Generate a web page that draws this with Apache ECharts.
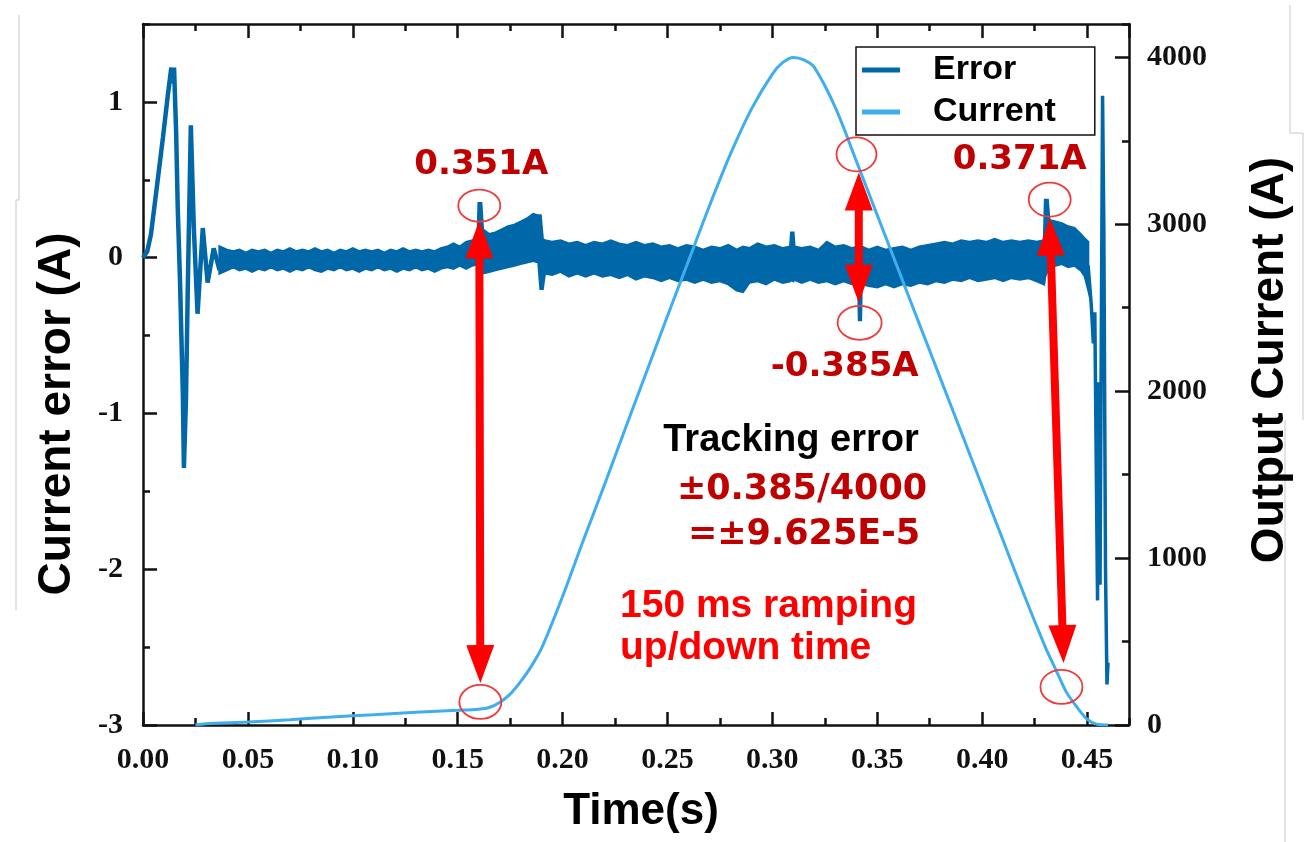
<!DOCTYPE html>
<html><head><meta charset="utf-8">
<script src="https://cdn.jsdelivr.net/npm/echarts@6/dist/echarts.min.js"></script>
<style>html,body{margin:0;padding:0;background:#fff}#c{width:1304px;height:842px}</style>
</head><body><div id="c"></div>
<script>
// ---------------- DATA ----------------
// Output current (right axis, A)
const curT = [0.025,0.03,0.05,0.07,0.09,0.11,0.13,0.15,0.16,0.165,0.17,0.175,0.18,0.185,0.19,0.20,0.21,0.22,0.23,0.24,0.25,0.26,0.27,0.28,0.29,0.30,0.305,0.31,0.315,0.32,0.33,0.34,0.35,0.36,0.37,0.38,0.39,0.40,0.41,0.42,0.43,0.435,0.44,0.445,0.45,0.4545,0.46];
const curV = [0,8,18,32,48,62,76,88,95,105,135,185,260,350,460,770,1110,1440,1780,2115,2450,2780,3110,3420,3690,3900,3970,4000,3985,3940,3700,3380,3055,2730,2405,2080,1755,1430,1105,780,470,335,200,110,35,5,0];

// Current error (left axis, A) - start-up transient
const errEarlyT = [0,0.002,0.0038,0.0062,0.0095,0.0119,0.0135,0.0142,0.0148,0.0158,0.0166,0.0176,0.019,0.0195,0.0205,0.0213,0.0228,0.0242,0.026,0.0285,0.0308,0.0337,0.0365];
const errEarlyV = [0,0.04,0.15,0.41,0.77,1.05,1.22,1.12,1.22,0.8,0.30,-0.13,-0.88,-1.35,-0.9,-0.23,0.85,0.2,-0.36,0.19,-0.16,0.06,-0.08];

// Current error - noise band (upper / lower envelope)
const errBandT  = [0.0365,0.040,0.043,0.046,0.049,0.052,0.055,0.058,0.061,0.064,0.067,0.070,0.073,0.076,0.079,0.082,0.085,0.088,0.091,0.094,0.097,0.100,0.103,0.106,0.109,0.112,0.115,0.118,0.121,0.124,0.127,0.130,0.133,0.136,0.139,0.142,0.145,0.148,0.151,0.154,0.157,0.1595,0.1600,0.1612,0.1620,0.165,0.168,0.171,0.174,0.177,0.180,0.183,0.186,0.1885,0.1895,0.1905,0.1915,0.195,0.199,0.203,0.207,0.211,0.215,0.219,0.223,0.227,0.231,0.235,0.239,0.243,0.247,0.251,0.255,0.259,0.263,0.267,0.271,0.275,0.279,0.283,0.286,0.289,0.293,0.297,0.301,0.305,0.3085,0.3090,0.3100,0.3105,0.314,0.318,0.322,0.326,0.330,0.334,0.338,0.3410,0.3413,0.3422,0.3425,0.346,0.350,0.354,0.358,0.362,0.366,0.370,0.374,0.378,0.382,0.386,0.390,0.394,0.398,0.402,0.406,0.410,0.414,0.418,0.422,0.426,0.4295,0.4300,0.4312,0.4320,0.435,0.438,0.441,0.444,0.447,0.449,0.4505];
const errBandHi = [0.07,0.05,0.04,0.05,0.03,0.05,0.04,0.05,0.03,0.05,0.04,0.06,0.04,0.05,0.04,0.06,0.04,0.05,0.03,0.05,0.04,0.06,0.04,0.05,0.04,0.05,0.03,0.05,0.04,0.06,0.04,0.05,0.04,0.05,0.04,0.06,0.07,0.09,0.07,0.10,0.11,0.12,0.35,0.35,0.18,0.15,0.16,0.18,0.20,0.21,0.23,0.25,0.28,0.27,0.27,0.12,0.11,0.10,0.11,0.09,0.10,0.08,0.10,0.09,0.11,0.09,0.08,0.10,0.08,0.09,0.07,0.08,0.06,0.08,0.07,0.05,0.07,0.06,0.08,0.05,0.07,0.06,0.09,0.07,0.08,0.06,0.07,0.16,0.16,0.07,0.06,0.07,0.05,0.10,0.07,0.08,0.06,0.07,0.06,0.06,0.07,0.05,0.07,0.05,0.06,0.07,0.05,0.07,0.08,0.09,0.10,0.09,0.11,0.10,0.11,0.10,0.12,0.10,0.11,0.10,0.11,0.10,0.11,0.37,0.37,0.24,0.23,0.22,0.20,0.19,0.15,0.12,0.10];
const errBandLo = [-0.10,-0.08,-0.06,-0.08,-0.07,-0.09,-0.07,-0.08,-0.06,-0.08,-0.07,-0.09,-0.07,-0.08,-0.06,-0.08,-0.09,-0.07,-0.08,-0.06,-0.08,-0.07,-0.09,-0.07,-0.08,-0.06,-0.08,-0.07,-0.09,-0.07,-0.08,-0.06,-0.08,-0.07,-0.09,-0.07,-0.06,-0.07,-0.05,-0.07,-0.05,-0.04,-0.03,-0.02,-0.10,-0.09,-0.08,-0.07,-0.06,-0.05,-0.04,-0.03,-0.02,-0.03,-0.20,-0.20,-0.10,-0.11,-0.09,-0.12,-0.10,-0.12,-0.10,-0.12,-0.11,-0.13,-0.11,-0.14,-0.12,-0.13,-0.15,-0.13,-0.15,-0.14,-0.16,-0.14,-0.16,-0.15,-0.17,-0.21,-0.22,-0.16,-0.15,-0.17,-0.14,-0.16,-0.15,-0.14,-0.15,-0.14,-0.16,-0.14,-0.16,-0.15,-0.17,-0.15,-0.17,-0.18,-0.40,-0.40,-0.17,-0.18,-0.19,-0.17,-0.19,-0.17,-0.18,-0.16,-0.17,-0.15,-0.16,-0.14,-0.15,-0.13,-0.15,-0.14,-0.13,-0.15,-0.13,-0.14,-0.13,-0.15,-0.17,-0.12,-0.08,-0.06,-0.05,-0.04,-0.06,-0.05,-0.08,-0.12,-0.20];

// Current error - ramp-down end transient
const errEndT = [0.4505,0.4520,0.4530,0.4537,0.4543,0.4550,0.4556,0.4562,0.4568,0.4574,0.4580,0.4588,0.4595,0.4600];
const errEndV = [-0.05,-0.3,-0.55,-0.35,-1.2,-2.2,-0.8,-2.1,-0.5,1.04,0.2,-2.0,-2.74,-2.6];

// Annotated peaks
const peakT = [0.1603, 0.3416, 0.4322];
const peakV = [0.351, -0.385, 0.371];
const peakLabels = ['0.351A', '-0.385A', '0.371A'];

// ---------------- CHART ----------------
const C_ERR = '#0067A9', C_CUR = '#3FAEEF', C_AX = '#111';
const zip = (a, b) => a.map((v, i) => [v, b[i]]);
const tickFont = {fontFamily: 'Liberation Serif', fontWeight: 'bold', fontSize: 30, color: C_AX};
const X = {min: 0, max: 0.47, splitLine: {show: false}};
const axLine = {show: true, onZero: false, lineStyle: {color: C_AX, width: 2.5}};
const noLine = {show: false, onZero: false};
const tk = (len) => ({inside: true, length: len, lineStyle: {color: C_AX, width: 2.5}});

const chart = echarts.init(document.getElementById('c'), null, {renderer: 'canvas'});
chart.setOption({
  animation: false,
  backgroundColor: '#fff',
  grid: {left: 143, right: 175, top: 24, bottom: 117, containLabel: false, outerBoundsMode: 'none'},
  legend: {
    orient: 'vertical', left: 856, top: 47, padding: [6, 39, 6, 6], itemGap: 8,
    itemWidth: 38, itemHeight: 5, borderColor: '#111', borderWidth: 1.5, backgroundColor: '#fff',
    textStyle: {fontFamily: 'Liberation Sans', fontWeight: 'bold', fontSize: 34, color: '#000', padding: [0, 0, 0, 28]},
    data: [{name: 'Error', icon: 'rect'}, {name: 'Current', icon: 'rect'}]
  },
  xAxis: [
    Object.assign({type: 'value', position: 'bottom', interval: 0.05, axisLine: axLine, axisTick: tk(13),
      axisLabel: Object.assign({margin: 20, showMaxLabel: false, formatter: v => v.toFixed(2)}, tickFont)}, X),
    Object.assign({type: 'value', position: 'bottom', interval: 0.025, axisLine: noLine, axisTick: tk(7), axisLabel: {show: false}}, X),
    Object.assign({type: 'value', position: 'top', interval: 0.05, axisLine: axLine, axisTick: tk(14), axisLabel: {show: false}}, X),
    Object.assign({type: 'value', position: 'top', interval: 0.025, axisLine: noLine, axisTick: tk(7), axisLabel: {show: false}}, X)
  ],
  yAxis: [
    {type: 'value', position: 'left', min: -3, max: 1.5, interval: 1, splitLine: {show: false}, axisLine: axLine, axisTick: tk(14),
      axisLabel: Object.assign({margin: 20, showMaxLabel: false}, tickFont)},
    {type: 'value', position: 'left', min: -3, max: 1.5, interval: 0.5, splitLine: {show: false}, axisLine: noLine, axisTick: tk(7), axisLabel: {show: false}},
    {type: 'value', position: 'right', min: 0, max: 4200, interval: 1000, splitLine: {show: false}, axisLine: axLine, axisTick: tk(14),
      axisLabel: Object.assign({margin: 18, showMaxLabel: false, formatter: v => String(v)}, tickFont)},
    {type: 'value', position: 'right', min: 0, max: 4200, interval: 500, splitLine: {show: false}, axisLine: noLine, axisTick: tk(7), axisLabel: {show: false}}
  ],
  series: [
    {name: 'Error', type: 'line', xAxisIndex: 0, yAxisIndex: 0, data: zip(errEarlyT, errEarlyV),
      showSymbol: false, lineStyle: {color: C_ERR, width: 4.5}, itemStyle: {color: C_ERR}},
    {name: 'Error', type: 'custom', xAxisIndex: 0, yAxisIndex: 0, data: [[errBandT[0], errBandHi[0]]],
      itemStyle: {color: C_ERR},
      renderItem: function (params, api) {
        const top = [], bot = [];
        for (let i = 0; i < errBandT.length; i++) {
          top.push(api.coord([errBandT[i], errBandHi[i]]));
          bot.push(api.coord([errBandT[i], errBandLo[i]]));
        }
        return {type: 'polygon', shape: {points: top.concat(bot.reverse())},
          style: {fill: C_ERR, stroke: C_ERR, lineWidth: 2.5}};
      }},
    {name: 'Error', type: 'line', xAxisIndex: 0, yAxisIndex: 0, data: zip(errEndT, errEndV),
      showSymbol: false, lineStyle: {color: C_ERR, width: 3.5}, itemStyle: {color: C_ERR}},
    {name: 'Current', type: 'line', xAxisIndex: 0, yAxisIndex: 2, data: zip(curT, curV), smooth: 0.3,
      showSymbol: false, lineStyle: {color: C_CUR, width: 3}, itemStyle: {color: C_CUR}}
  ]
});

// ---------------- ANNOTATIONS (positioned through the axes) ----------------
const px = t => chart.convertToPixel({xAxisIndex: 0}, t);
const py = (v, ax) => chart.convertToPixel({yAxisIndex: ax === 'C' ? 2 : 0}, v);
const circles = [
  {t: 0.1603, v: 0.334, ax: 'E', rx: 21, ry: 16},
  {t: 0.1608, v: 138, ax: 'C', rx: 21, ry: 17},
  {t: 0.3401, v: 3419, ax: 'C', rx: 20, ry: 17},
  {t: 0.3416, v: -0.418, ax: 'E', rx: 22, ry: 17},
  {t: 0.4322, v: 0.373, ax: 'E', rx: 21, ry: 17},
  {t: 0.4378, v: 228, ax: 'C', rx: 21, ry: 17}
];
const arrows = [
  {t1: 0.1603, v1: 0.238, a1: 'E', t2: 0.1608, v2: 251, a2: 'C'},
  {t1: 0.3412, v1: 3311, a1: 'C', t2: 0.3412, v2: -0.289, a2: 'E'},
  {t1: 0.4322, v1: 0.257, a1: 'E', t2: 0.4388, v2: 371, a2: 'C'}
];
function arrowPts(P, Q, L, W, s) {
  const dx = Q[0] - P[0], dy = Q[1] - P[1], len = Math.hypot(dx, dy);
  const u = [dx / len, dy / len], n = [-u[1], u[0]];
  const p = (b, a, k, m) => [b[0] + u[0] * a + n[0] * k * m, b[1] + u[1] * a + n[1] * k * m];
  return [P, p(P, L, W, 1), p(P, L, s, 1), p(Q, -L, s, 1), p(Q, -L, W, 1), Q,
          p(Q, -L, W, -1), p(Q, -L, s, -1), p(P, L, s, -1), p(P, L, W, -1)];
}
const g = [];
circles.forEach(c => g.push({type: 'ellipse', z: 100,
  shape: {cx: px(c.t), cy: py(c.v, c.ax), rx: c.rx, ry: c.ry},
  style: {fill: 'none', stroke: '#EE3B3B', lineWidth: 1.8}}));
arrows.forEach(a => g.push({type: 'polygon', z: 99,
  shape: {points: arrowPts([px(a.t1), py(a.v1, a.a1)], [px(a.t2), py(a.v2, a.a2)], 38, 14, 4)},
  style: {fill: '#FF0000'}}));
const lblOff = [[2, -38], [-15, 50], [-30, -40]];
peakT.forEach((t, i) => g.push({type: 'text', z: 101,
  x: px(t) + lblOff[i][0], y: py(peakV[i], 'E') + lblOff[i][1],
  style: {text: peakLabels[i], fill: '#C00000', font: 'bold 34px "DejaVu Sans"', align: 'center', verticalAlign: 'middle'}}));
const T = (text, x, y, font, fill, align, rot) => g.push({type: 'text', z: 101, x: x, y: y, rotation: rot || 0,
  style: {text: text, fill: fill, font: font, align: align || 'center', verticalAlign: 'middle'}});
// axis titles
T('Current error (A)', 57, 414, 'bold 46px "Liberation Sans"', '#000', 'center', Math.PI / 2);
T('Output Current (A)', 1270, 360, 'bold 46px "Liberation Sans"', '#000', 'center', Math.PI / 2);
T('Time(s)', 641, 812, 'bold 44px "Liberation Sans"', '#000');
// annotations
T('Tracking error', 791, 441, 'bold 38px "Liberation Sans"', '#000');
T('±0.385/4000', 802, 490, 'bold 35px "DejaVu Sans"', '#C00000');
T('=±9.625E-5', 804, 535, 'bold 35px "DejaVu Sans"', '#C00000');
T('150 ms ramping', 620, 606, 'bold 39px "Liberation Sans"', '#FF0000', 'left');
T('up/down time', 620, 648, 'bold 39px "Liberation Sans"', '#FF0000', 'left');
// faint frame lines of the pasted picture
const gl = (pts) => g.push({type: 'polyline', z: 1, shape: {points: pts}, style: {stroke: '#C8C8C8', lineWidth: 1, fill: 'none'}});
gl([[19, 15], [19, 200], [16, 200], [16, 610]]);
gl([[1290, 5], [1290, 133], [1303, 133], [1303, 420]]);
gl([[1285, 420], [1285, 842]]);
chart.setOption({graphic: g});
</script></body></html>
